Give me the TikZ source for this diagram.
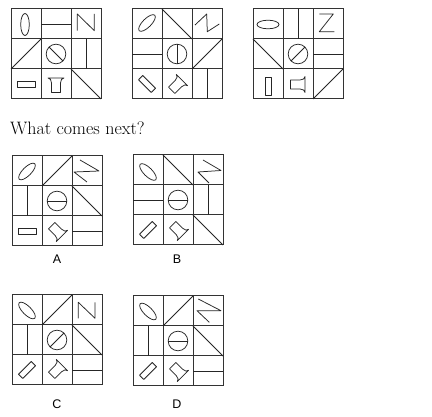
\documentclass[tikz,border=0pt]{standalone}
\usepackage{fontspec}
\newfontfamily\labelfont{Liberation Sans}
\begin{document}
\begin{tikzpicture}[x=1pt,y=-1pt,
  gridln/.style={line width=1pt, draw=black!80},
  shp/.style={line width=0.75pt, draw=black!85, line join=round},
  lbl/.style={font=\labelfont\fontsize{12.5}{14}\selectfont, inner sep=0pt}]
\useasboundingbox[fill=white] (0,0) rectangle (432,417);
\newcommand\Gbox{\draw[gridln] (\GX,\GY) rectangle ++(90,90)
  ({\GX+30},\GY) -- ++(0,90) ({\GX+60},\GY) -- ++(0,90)
  (\GX,{\GY+30}) -- ++(90,0) (\GX,{\GY+60}) -- ++(90,0);}
\newcommand\At[3]{\begin{scope}[shift={({\GX+30*#2-15},{\GY+30*#1-15})}]#3\end{scope}}
\newcommand\Ell[2][0,0]{\draw[shp, shift={(#1)}, rotate=#2] (0,0) ellipse [x radius=11, y radius=4.3];}
\newcommand\Rct[2][0,0]{\draw[shp, shift={(#1)}, rotate=#2] (-9,-3) rectangle (9,3);}
\newcommand\Crc[1]{\draw[shp] (0,0) circle [radius=9.8]; \draw[shp, rotate=#1] (-9.8,0) -- (9.8,0);}
\newcommand\Hrn[2][0,0]{\draw[shp, shift={(#1)}, rotate=#2] (-7.5,-4.5) -- (2,-4.5) .. controls (5,-4.5) and (7,-6) .. (7,-8) -- (7,8) .. controls (7,6) and (5,4.5) .. (2,4.5) -- (-7.5,4.5) -- cycle;}
\newcommand\Hl{\draw[shp] (-15,0) -- (15,0);}
\newcommand\Vl{\draw[shp] (0,-15) -- (0,15);}
\newcommand\Du{\draw[shp] (-15,15) -- (15,-15);}
\newcommand\Dd{\draw[shp] (-15,-15) -- (15,15);}

% ---------- grid 1
\def\GX{11}\def\GY{9}
\Gbox
\At{1}{1}{\Ell[-1,0.5]{90}}
\At{1}{2}{\Hl}
\At{1}{3}{\draw[shp] (-8.7,6.7) -- (-8.7,-10) -- (8.3,6.7) -- (8.3,-10);}
\At{2}{1}{\Du}
\At{2}{2}{\Crc{-45}}
\At{2}{3}{\Vl}
\At{3}{1}{\Rct{0}}
\At{3}{2}{\Hrn[0,1]{90}}
\At{3}{3}{\Dd}

% ---------- grid 2
\def\GX{132}\def\GY{9}
\Gbox
\At{1}{1}{\Ell[0,-1]{45}}
\At{1}{2}{\Dd}
\At{1}{3}{\draw[shp] (-12,1) -- (-0.3,-10) -- (0.3,7.7) -- (12.3,0);}
\At{2}{1}{\Hl}
\At{2}{2}{\Crc{90}}
\At{2}{3}{\Du}
\At{3}{1}{\Rct{-45}}
\At{3}{2}{\Hrn[0,1]{45}}
\At{3}{3}{\Vl}

% ---------- grid 3
\def\GX{253}\def\GY{9}
\Gbox
\At{1}{1}{\Ell[0,0.5]{0}}
\At{1}{2}{\Vl}
\At{1}{3}{\draw[shp] (-8.7,-10) -- (5.3,-10) -- (-8.7,7.7) -- (6.3,7.7);}
\At{2}{1}{\Dd}
\At{2}{2}{\Crc{45}}
\At{2}{3}{\Hl}
\At{3}{1}{\Rct[0,2]{90}}
\At{3}{2}{\Hrn[0,0.5]{0}}
\At{3}{3}{\Du}

\node[anchor=base west, inner sep=0pt, font=\fontsize{18}{20}\selectfont] (q) at (10,135) {What comes next?};

% ---------- option A
\def\GX{12}\def\GY{156}
\Gbox
\At{1}{1}{\Ell[0,0.5]{45}}
\At{1}{2}{\Du}
\At{1}{3}{\draw[shp] (-7,-11) -- (12,0) -- (-13,1) -- (0,11);}
\At{2}{1}{\Vl}
\At{2}{2}{\Crc{0}}
\At{2}{3}{\Dd}
\At{3}{1}{\Rct{0}}
\At{3}{2}{\Hrn[0,0]{-45}}
\At{3}{3}{\Hl}
\node[lbl] (la) at (57,259) {A};

% ---------- option B
\def\GX{133}\def\GY{155}
\Gbox
\At{1}{1}{\Ell[0,2]{-45}}
\At{1}{2}{\Dd}
\At{1}{3}{\draw[shp] (-5,-10) -- (13,0.5) -- (-10,2) -- (1,13);}
\At{2}{1}{\Hl}
\At{2}{2}{\Crc{0}}
\At{2}{3}{\Vl}
\At{3}{1}{\Rct{45}}
\At{3}{2}{\Hrn[0,0]{-45}}
\At{3}{3}{\Dd}
\node[lbl] (lb) at (177,259) {B};

% ---------- option C
\def\GX{12}\def\GY{295}
\Gbox
\At{1}{1}{\Ell[0,0.5]{-45}}
\At{1}{2}{\Du}
\At{1}{3}{\draw[shp] (-8.7,8.3) -- (-8.7,-7.7) -- (8,8.3) -- (8,-7.7);}
\At{2}{1}{\Vl}
\At{2}{2}{\Crc{45}}
\At{2}{3}{\Dd}
\At{3}{1}{\Rct{45}}
\At{3}{2}{\Hrn[0,0]{45}}
\At{3}{3}{\Hl}
\node[lbl] (lc) at (57,404.5) {C};

% ---------- option D
\def\GX{133}\def\GY{296}
\Gbox
\At{1}{1}{\Ell[0,0.5]{-45}}
\At{1}{2}{\Du}
\At{1}{3}{\draw[shp] (-9.7,-12) -- (13,-0.3) -- (-11,-0.3) -- (1.3,11.3);}
\At{2}{1}{\Vl}
\At{2}{2}{\Crc{0}}
\At{2}{3}{\Dd}
\At{3}{1}{\Rct{45}}
\At{3}{2}{\Hrn[0,0]{-45}}
\At{3}{3}{\Hl}
\node[lbl] (ld) at (177,404.5) {D};
\end{tikzpicture}
\end{document}
